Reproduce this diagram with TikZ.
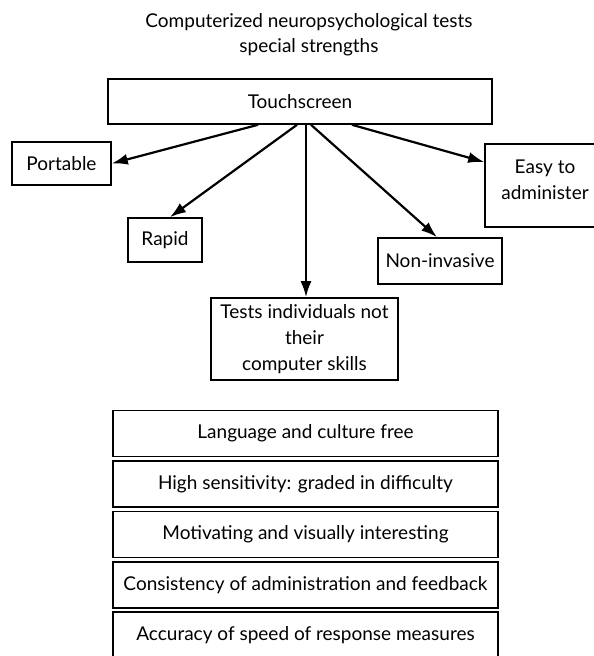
\documentclass[tikz,border=0pt]{standalone}
\usepackage{fontspec}
\setmainfont{Lato}
\usetikzlibrary{arrows.meta}
\begin{document}
\begin{tikzpicture}[x=1pt,y=-1pt,line width=1.6pt,
  box/.style={draw,inner sep=0pt,align=center,font=\fontsize{19}{26}\selectfont},
  arr/.style={line width=2.2pt,-{Latex[length=16pt,width=11pt]}}]
  \useasboundingbox (0,0) rectangle (594,656);
  \node (title) at (309,35) [align=center,font=\fontsize{19}{25}\selectfont] {Computerized neuropsychological tests\\special strengths};
  \node (touch) at (300,101.5) [box,minimum width=384pt,minimum height=45pt] {Touchscreen};
  \node (port) at (61.5,163.5) [box,minimum width=99pt,minimum height=43pt] {Portable};
  \node (rapid) at (165,240) [box,minimum width=74pt,minimum height=44pt] {Rapid};
  \node (easy) at (545,185.5) [box,minimum width=120pt,minimum height=83pt,text depth=12pt] {Easy to\\administer};
  \node (noninv) at (440,261) [box,minimum width=124pt,minimum height=46pt] {Non-invasive};
  \node (tests) at (304.5,339) [box,minimum width=187pt,minimum height=82pt] {Tests individuals not\\their\\computer skills};
  \node (lang) at (305.5,433.5) [box,minimum width=385pt,minimum height=46pt] {Language and culture free};
  \node (sens) at (305.5,484) [box,minimum width=385pt,minimum height=46pt] {High sensitivity: graded in difficulty};
  \node (motiv) at (305.5,534.5) [box,minimum width=385pt,minimum height=46pt] {Motivating and visually interesting};
  \node (cons) at (305.5,585) [box,minimum width=385pt,minimum height=46pt] {Consistency of administration and feedback};
  \node (acc) at (305.5,635.5) [box,minimum width=385pt,minimum height=47pt] {Accuracy of speed of response measures};
  \draw[arr] ([xshift=-42pt]touch.south) -- (port.east);
  \draw[arr] ([xshift=-3pt]touch.south) -- ([xshift=5pt]rapid.north);
  \draw[arr] ([xshift=6pt]touch.south) -- ([xshift=1.5pt]tests.north);
  \draw[arr] ([xshift=11pt]touch.south) -- ([xshift=-3pt]noninv.north);
  \draw[arr] ([xshift=52pt]touch.south) -- ([yshift=23.5pt]easy.west);
\end{tikzpicture}
\end{document}
